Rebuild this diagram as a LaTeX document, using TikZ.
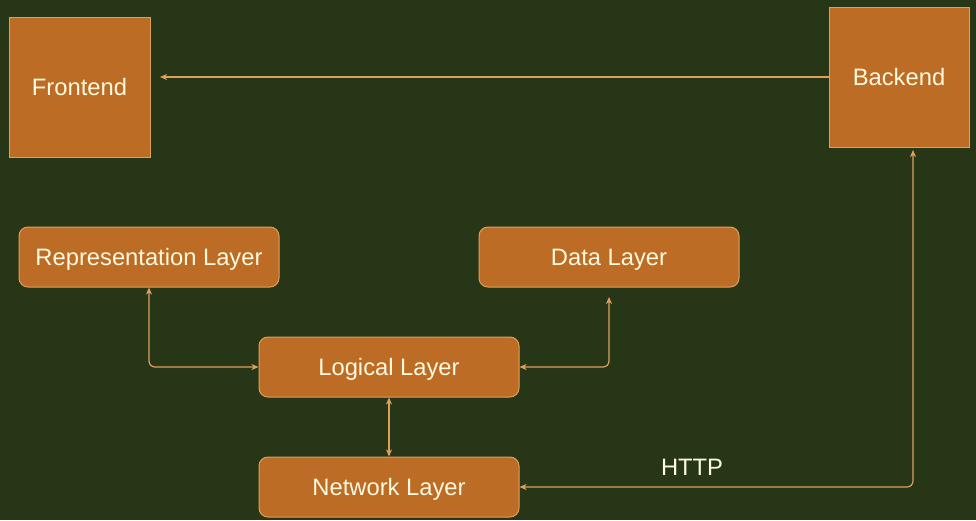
\documentclass[tikz,border=0pt]{standalone}
\usepackage{fontspec}
\setmainfont{Liberation Sans}
\usetikzlibrary{arrows.meta}
\definecolor{bgc}{HTML}{283618}
\definecolor{boxfill}{HTML}{BC6C25}
\definecolor{boxline}{HTML}{DDA15E}
\definecolor{txt}{HTML}{FEFAE0}
\tikzset{
  sqbox/.style={draw=boxline, fill=boxfill, line width=1pt, text=txt, font=\fontsize{23.75}{27}\selectfont, inner sep=0pt, text height=17pt, text depth=0pt},
  rbox/.style={sqbox, rounded corners=9pt, minimum width=260pt, minimum height=60pt},
  conn/.style={draw=boxline, line width=1.2pt, rounded corners=6pt},
  lbl/.style={text=txt, font=\fontsize{23.75}{27}\selectfont, inner sep=0pt, text height=17pt, text depth=0pt}
}
\begin{document}
\begin{tikzpicture}[x=1pt,y=-1pt]
\fill[bgc] (0,0) rectangle (976,520);
\useasboundingbox (0,0) rectangle (976,520);
\node[sqbox, minimum width=141pt, minimum height=140pt] (fe) at (79.5,87) {Frontend};
\node[sqbox, minimum width=140pt, minimum height=140pt] (be) at (899,77) {Backend};
\node[rbox] (rep) at (149,257) {Representation Layer};
\node[rbox] (data) at (609,257) {Data Layer};
\node[rbox] (log) at (389,367) {Logical Layer};
\node[rbox] (net) at (389,487) {Network Layer};
\coordinate (feIn) at (160,77);
\coordinate (dataIn) at (609,297);
\coordinate (beIn) at (913,150);
\draw[conn, -{Stealth[length=7pt,width=6pt,inset=2pt]}] (be.west) -- (feIn);
\draw[conn, {Stealth[length=7pt,width=6pt,inset=2pt]}-{Stealth[length=7pt,width=6pt,inset=2pt]}] (rep.south) |- (log.west);
\draw[conn, {Stealth[length=7pt,width=6pt,inset=2pt]}-{Stealth[length=7pt,width=6pt,inset=2pt]}] (log.east) -| (dataIn);
\draw[conn, {Stealth[length=7pt,width=6pt,inset=2pt]}-{Stealth[length=7pt,width=6pt,inset=2pt]}] (log.south) -- (net.north);
\draw[conn, {Stealth[length=7pt,width=6pt,inset=2pt]}-{Stealth[length=7pt,width=6pt,inset=2pt]}] (beIn) |- (net.east);
\node[lbl] (http) at (692,467) {HTTP};
\end{tikzpicture}
\end{document}
